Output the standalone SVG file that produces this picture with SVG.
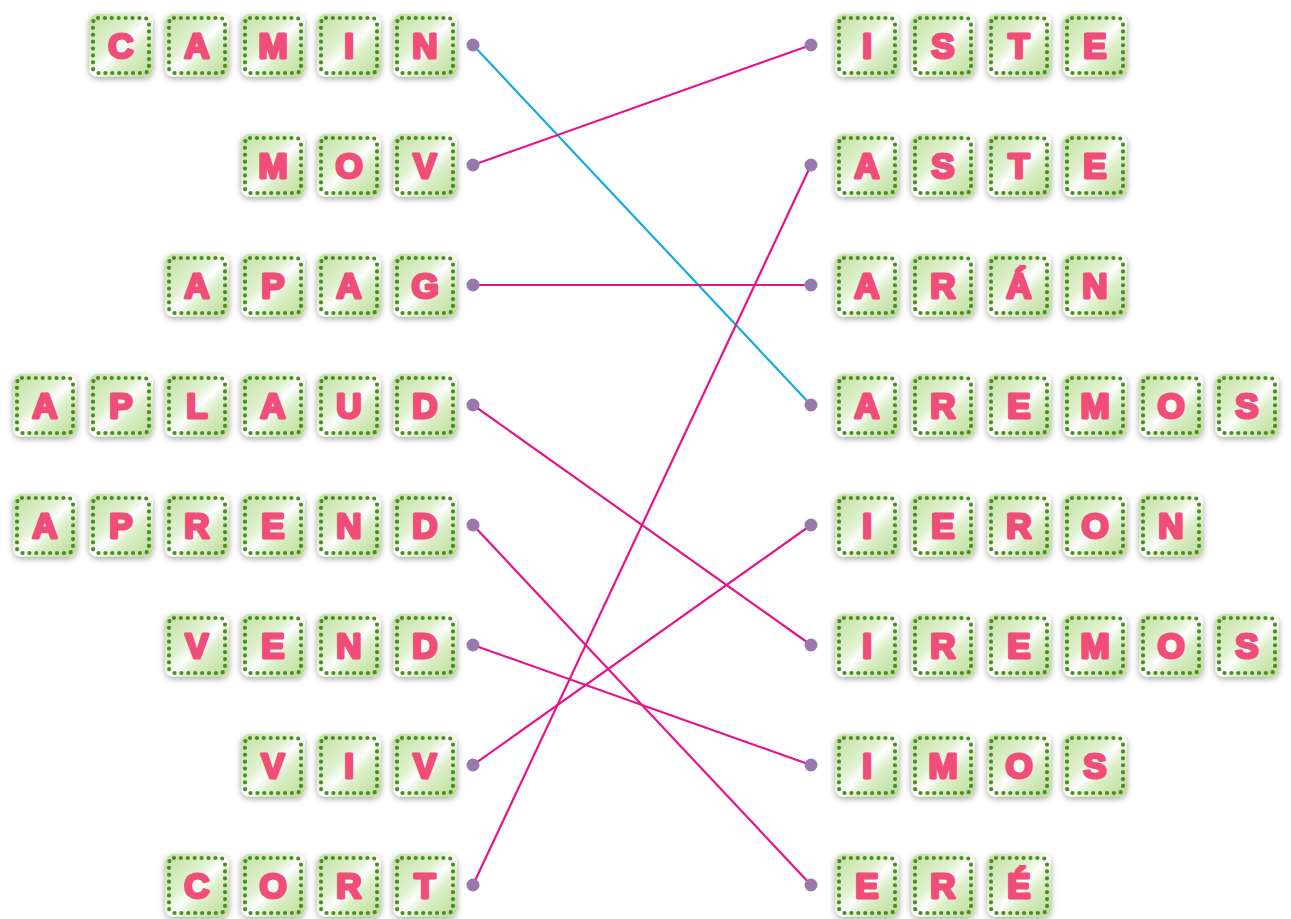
<svg xmlns="http://www.w3.org/2000/svg" xmlns:xlink="http://www.w3.org/1999/xlink" width="1291" height="919" viewBox="0 0 1291 919">
<defs>
<linearGradient id="g" x1="0" y1="0" x2="1" y2="1">
<stop offset="0" stop-color="#bfe09c"/>
<stop offset="0.4" stop-color="#e0f1d0"/>
<stop offset="0.52" stop-color="#ffffff"/>
<stop offset="0.64" stop-color="#dcefca"/>
<stop offset="1" stop-color="#b8dc92"/>
</linearGradient>
<filter id="sh" x="-30%" y="-30%" width="160%" height="160%">
<feDropShadow dx="0" dy="2" stdDeviation="3" flood-color="#000" flood-opacity="0.35"/>
</filter>
<g id="t">
<rect width="64" height="63" rx="9" fill="url(#g)" filter="url(#sh)"/>
<rect x="4" y="4" width="56" height="55" rx="5" fill="none" stroke="#4e8a28" stroke-width="4.2" stroke-dasharray="0 6.9" stroke-linecap="round"/>
</g>
</defs>
<style>
.l{font-family:"Liberation Sans",Arial,sans-serif;font-weight:bold;font-size:35px;fill:#f04d78;stroke:#f04d78;stroke-width:3;stroke-linejoin:round;text-anchor:middle}
.c{stroke:#e6148c;stroke-width:2.2;fill:none}
.cb{stroke:#18a9e2;stroke-width:2.2;fill:none}
.d{fill:#9879ad}
</style>
<rect width="1291" height="919" fill="#ffffff"/>
<g id="connectors">
<line class="cb" x1="473" y1="45" x2="811" y2="405"/>
<line class="c" x1="473" y1="165" x2="811" y2="45"/>
<line class="c" x1="473" y1="285" x2="811" y2="285"/>
<line class="c" x1="473" y1="405" x2="811" y2="645"/>
<line class="c" x1="473" y1="525" x2="811" y2="885"/>
<line class="c" x1="473" y1="645" x2="811" y2="765"/>
<line class="c" x1="473" y1="765" x2="811" y2="525"/>
<line class="c" x1="473" y1="885" x2="811" y2="165"/>
<circle class="d" cx="473" cy="45" r="6.5"/><circle class="d" cx="473" cy="165" r="6.5"/><circle class="d" cx="473" cy="285" r="6.5"/><circle class="d" cx="473" cy="405" r="6.5"/><circle class="d" cx="473" cy="525" r="6.5"/><circle class="d" cx="473" cy="645" r="6.5"/><circle class="d" cx="473" cy="765" r="6.5"/><circle class="d" cx="473" cy="885" r="6.5"/>
<circle class="d" cx="811" cy="45" r="6.5"/><circle class="d" cx="811" cy="165" r="6.5"/><circle class="d" cx="811" cy="285" r="6.5"/><circle class="d" cx="811" cy="405" r="6.5"/><circle class="d" cx="811" cy="525" r="6.5"/><circle class="d" cx="811" cy="645" r="6.5"/><circle class="d" cx="811" cy="765" r="6.5"/><circle class="d" cx="811" cy="885" r="6.5"/>
</g>
<g id="camin">
<use href="#t" x="89" y="14"/><use href="#t" x="165" y="14"/><use href="#t" x="241" y="14"/><use href="#t" x="317" y="14"/><use href="#t" x="393" y="14"/>
<text class="l" x="121" y="58">C</text><text class="l" x="197" y="58">A</text><text class="l" x="273" y="58">M</text><text class="l" x="349" y="58">I</text><text class="l" x="425" y="58">N</text>
</g>
<g id="mov">
<use href="#t" x="241" y="134"/><use href="#t" x="317" y="134"/><use href="#t" x="393" y="134"/>
<text class="l" x="273" y="178">M</text><text class="l" x="349" y="178">O</text><text class="l" x="425" y="178">V</text>
</g>
<g id="apag">
<use href="#t" x="165" y="254"/><use href="#t" x="241" y="254"/><use href="#t" x="317" y="254"/><use href="#t" x="393" y="254"/>
<text class="l" x="197" y="298">A</text><text class="l" x="273" y="298">P</text><text class="l" x="349" y="298">A</text><text class="l" x="425" y="298">G</text>
</g>
<g id="aplaud">
<use href="#t" x="13" y="374"/><use href="#t" x="89" y="374"/><use href="#t" x="165" y="374"/><use href="#t" x="241" y="374"/><use href="#t" x="317" y="374"/><use href="#t" x="393" y="374"/>
<text class="l" x="45" y="418">A</text><text class="l" x="121" y="418">P</text><text class="l" x="197" y="418">L</text><text class="l" x="273" y="418">A</text><text class="l" x="349" y="418">U</text><text class="l" x="425" y="418">D</text>
</g>
<g id="aprend">
<use href="#t" x="13" y="494"/><use href="#t" x="89" y="494"/><use href="#t" x="165" y="494"/><use href="#t" x="241" y="494"/><use href="#t" x="317" y="494"/><use href="#t" x="393" y="494"/>
<text class="l" x="45" y="538">A</text><text class="l" x="121" y="538">P</text><text class="l" x="197" y="538">R</text><text class="l" x="273" y="538">E</text><text class="l" x="349" y="538">N</text><text class="l" x="425" y="538">D</text>
</g>
<g id="vend">
<use href="#t" x="165" y="614"/><use href="#t" x="241" y="614"/><use href="#t" x="317" y="614"/><use href="#t" x="393" y="614"/>
<text class="l" x="197" y="658">V</text><text class="l" x="273" y="658">E</text><text class="l" x="349" y="658">N</text><text class="l" x="425" y="658">D</text>
</g>
<g id="viv">
<use href="#t" x="241" y="734"/><use href="#t" x="317" y="734"/><use href="#t" x="393" y="734"/>
<text class="l" x="273" y="778">V</text><text class="l" x="349" y="778">I</text><text class="l" x="425" y="778">V</text>
</g>
<g id="cort">
<use href="#t" x="165" y="854"/><use href="#t" x="241" y="854"/><use href="#t" x="317" y="854"/><use href="#t" x="393" y="854"/>
<text class="l" x="197" y="898">C</text><text class="l" x="273" y="898">O</text><text class="l" x="349" y="898">R</text><text class="l" x="425" y="898">T</text>
</g>
<g id="iste">
<use href="#t" x="835" y="14"/><use href="#t" x="911" y="14"/><use href="#t" x="987" y="14"/><use href="#t" x="1063" y="14"/>
<text class="l" x="867" y="58">I</text><text class="l" x="943" y="58">S</text><text class="l" x="1019" y="58">T</text><text class="l" x="1095" y="58">E</text>
</g>
<g id="aste">
<use href="#t" x="835" y="134"/><use href="#t" x="911" y="134"/><use href="#t" x="987" y="134"/><use href="#t" x="1063" y="134"/>
<text class="l" x="867" y="178">A</text><text class="l" x="943" y="178">S</text><text class="l" x="1019" y="178">T</text><text class="l" x="1095" y="178">E</text>
</g>
<g id="aran">
<use href="#t" x="835" y="254"/><use href="#t" x="911" y="254"/><use href="#t" x="987" y="254"/><use href="#t" x="1063" y="254"/>
<text class="l" x="867" y="298">A</text><text class="l" x="943" y="298">R</text><text class="l" x="1019" y="298">Á</text><text class="l" x="1095" y="298">N</text>
</g>
<g id="aremos">
<use href="#t" x="835" y="374"/><use href="#t" x="911" y="374"/><use href="#t" x="987" y="374"/><use href="#t" x="1063" y="374"/><use href="#t" x="1139" y="374"/><use href="#t" x="1215" y="374"/>
<text class="l" x="867" y="418">A</text><text class="l" x="943" y="418">R</text><text class="l" x="1019" y="418">E</text><text class="l" x="1095" y="418">M</text><text class="l" x="1171" y="418">O</text><text class="l" x="1247" y="418">S</text>
</g>
<g id="ieron">
<use href="#t" x="835" y="494"/><use href="#t" x="911" y="494"/><use href="#t" x="987" y="494"/><use href="#t" x="1063" y="494"/><use href="#t" x="1139" y="494"/>
<text class="l" x="867" y="538">I</text><text class="l" x="943" y="538">E</text><text class="l" x="1019" y="538">R</text><text class="l" x="1095" y="538">O</text><text class="l" x="1171" y="538">N</text>
</g>
<g id="iremos">
<use href="#t" x="835" y="614"/><use href="#t" x="911" y="614"/><use href="#t" x="987" y="614"/><use href="#t" x="1063" y="614"/><use href="#t" x="1139" y="614"/><use href="#t" x="1215" y="614"/>
<text class="l" x="867" y="658">I</text><text class="l" x="943" y="658">R</text><text class="l" x="1019" y="658">E</text><text class="l" x="1095" y="658">M</text><text class="l" x="1171" y="658">O</text><text class="l" x="1247" y="658">S</text>
</g>
<g id="imos">
<use href="#t" x="835" y="734"/><use href="#t" x="911" y="734"/><use href="#t" x="987" y="734"/><use href="#t" x="1063" y="734"/>
<text class="l" x="867" y="778">I</text><text class="l" x="943" y="778">M</text><text class="l" x="1019" y="778">O</text><text class="l" x="1095" y="778">S</text>
</g>
<g id="ere">
<use href="#t" x="835" y="854"/><use href="#t" x="911" y="854"/><use href="#t" x="987" y="854"/>
<text class="l" x="867" y="898">E</text><text class="l" x="943" y="898">R</text><text class="l" x="1019" y="898">É</text>
</g>
</svg>
